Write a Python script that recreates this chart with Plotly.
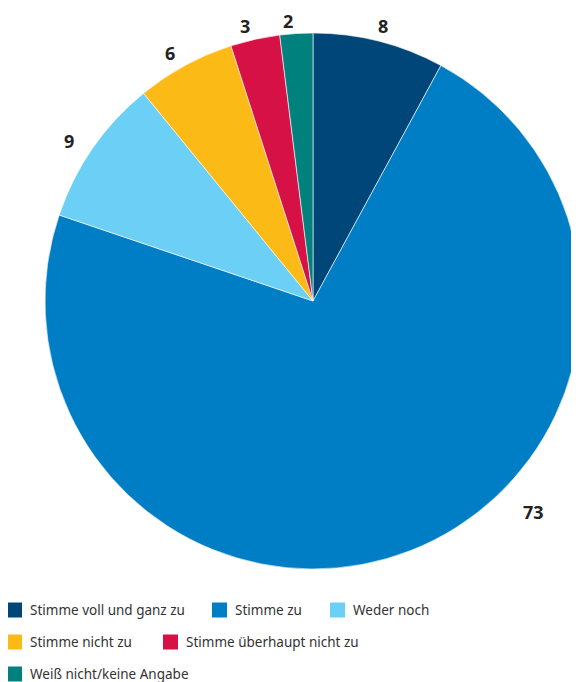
import math
import plotly.graph_objects as go

categories = ["Stimme voll und ganz zu", "Stimme zu", "Weder noch",
              "Stimme nicht zu", "Stimme überhaupt nicht zu", "Weiß nicht/keine Angabe"]
values = [8, 73, 9, 6, 3, 2]
colors = ["#004678", "#007EC5", "#6CCFF6", "#FBBA16", "#D51145", "#00817D"]

# The page body has an 8px default margin, so figure pixel = page pixel - 8
OFF = 8
W, H = 579, 682
ML, MR, MT, MB = 37, 6, 25, 121
PW, PH = W - ML - MR, H - MT - MB

def px_x(px):
    return (px - OFF - ML) / PW

def px_y(py):
    return (H - MB - (py - OFF)) / PH

fig = go.Figure(go.Pie(
    labels=categories,
    values=values,
    sort=False,
    direction="clockwise",
    rotation=0,
    textinfo="none",
    marker=dict(colors=colors, line=dict(color="white", width=0.6)),
    showlegend=False,
    hoverinfo="label+value",
))

# value labels placed around the pie from the slice mid-angles
CX, CY = ML + PW / 2, MT + PH / 2          # figure-pixel centre of the pie
R = min(PW, PH) / 2
label_shift = {1: (-25, 15)}   # (angle nudge in degrees, extra radius px) for the big slice label
total = sum(values)
annots = []
cum = 0
for i, v in enumerate(values):
    dang, drad = label_shift.get(i, (0, 0))
    mid = (cum + v / 2) / total * 360 + dang
    cum += v
    a = math.radians(mid)
    dist = R * 1.045 + 14 * abs(math.sin(a)) + drad
    if mid > 180:
        a -= math.radians(1.5)
    lx = CX + dist * math.sin(a)
    ly = CY - dist * math.cos(a)
    annots.append(dict(xref="paper", yref="paper",
                       x=(lx - ML) / PW, y=(H - MB - ly) / PH,
                       xanchor="center", yanchor="middle", showarrow=False,
                       text=f"<b>{v}</b>",
                       font=dict(family="Noto Sans", size=18, color="#222222")))

# custom legend layout (page-pixel positions: left x of swatch, row centre y)
legend_pos = [(7, 610), (212, 610), (330, 610), (7, 642), (163, 642), (7, 674)]
SW = 15
shapes = []
for (lx, ly), cat, col in zip(legend_pos, categories, colors):
    shapes.append(dict(type="rect", xref="paper", yref="paper",
                       x0=px_x(lx), x1=px_x(lx + SW),
                       y0=px_y(ly - SW / 2), y1=px_y(ly + SW / 2),
                       fillcolor=col, line=dict(width=0)))
    annots.append(dict(xref="paper", yref="paper", x=px_x(lx + 21), y=px_y(ly),
                       xanchor="left", yanchor="middle", showarrow=False,
                       text=cat, font=dict(family="Noto Sans", size=13.5, color="#333333")))

fig.update_layout(
    width=W, height=H,
    margin=dict(l=ML, r=MR, t=MT, b=MB),
    paper_bgcolor="white",
    plot_bgcolor="white",
    font=dict(family="Noto Sans", color="#333333"),
    shapes=shapes,
    annotations=annots,
)

fig.write_html("out.html")
